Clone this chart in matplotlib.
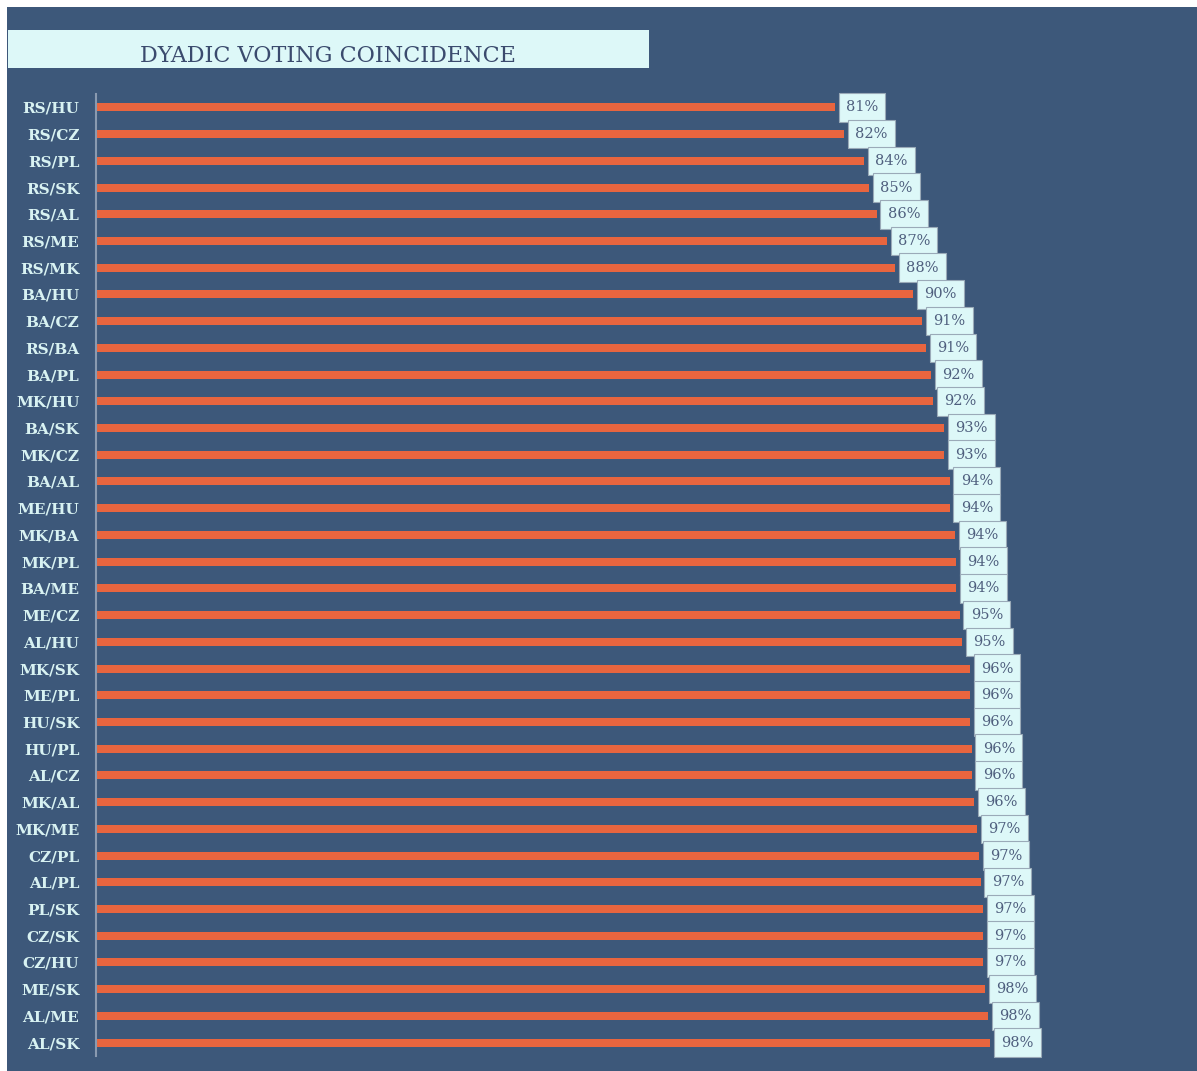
import matplotlib.pyplot as plt
from matplotlib.patches import Rectangle

pairs = ["RS/HU", "RS/CZ", "RS/PL", "RS/SK", "RS/AL", "RS/ME", "RS/MK", "BA/HU",
         "BA/CZ", "RS/BA", "BA/PL", "MK/HU", "BA/SK", "MK/CZ", "BA/AL", "ME/HU",
         "MK/BA", "MK/PL", "BA/ME", "ME/CZ", "AL/HU", "MK/SK", "ME/PL", "HU/SK",
         "HU/PL", "AL/CZ", "MK/AL", "MK/ME", "CZ/PL", "AL/PL", "PL/SK", "CZ/SK",
         "CZ/HU", "ME/SK", "AL/ME", "AL/SK"]
coincidence = [81.0, 82.0, 84.2, 84.8, 85.6, 86.7, 87.6, 89.6,
               90.6, 91.0, 91.6, 91.8, 93.0, 93.0, 93.6, 93.6,
               94.2, 94.3, 94.3, 94.7, 95.0, 95.8, 95.8, 95.8,
               96.0, 96.0, 96.3, 96.6, 96.8, 97.0, 97.3, 97.3,
               97.3, 97.5, 97.8, 98.0]

bg = "#3d587a"
bar_color = "#e8653f"
light = "#ddf8f8"

W, H = 1197, 1071
fig = plt.figure(figsize=(W / 100, H / 100), dpi=100, facecolor="white")

# dark panel behind everything
fig.patches.append(Rectangle((7 / W, -0.01), 1.02, 1 - 7 / H + 0.01, transform=fig.transFigure,
                             facecolor=bg, edgecolor="none", zorder=-10))

# title box
fig.patches.append(Rectangle((8 / W, 1 - 68 / H), (649 - 8) / W, 38 / H, transform=fig.transFigure,
                             facecolor=light, edgecolor="none", zorder=-5))
fig.text(328 / W, 1 - 56 / H, "DYADIC VOTING COINCIDENCE", ha="center", va="center",
         fontsize=16, family="DejaVu Serif", color="#3b4b6e")

left, right = 96 / W, 1190 / W
bottom, top = 1 - 1056 / H, 1 - 94 / H
ax = fig.add_axes([left, bottom, right - left, top - bottom])
ax.set_facecolor("none")

y = list(range(len(pairs)))
ax.barh(y, coincidence, height=0.3, color=bar_color)
ax.set_xlim(0, (1190 - 96) / 9.12)
ax.set_ylim(len(pairs) - 0.5, -0.5)

for yi, v in zip(y, coincidence):
    ax.annotate(f"{round(v)}%", xy=(v, yi), xytext=(8, 0), textcoords="offset points",
                ha="left", va="center", fontsize=10.5, family="DejaVu Serif", color="#4f5f7e",
                bbox=dict(boxstyle="square,pad=0.5", facecolor=light, edgecolor="#9aaab8", linewidth=0.8))

ax.set_yticks(y)
ax.set_yticklabels(pairs, fontsize=11, family="DejaVu Serif", fontweight="bold", color="#d8f2f2")
ax.tick_params(axis="y", length=0, pad=12)
ax.set_xticks([])
for s in ["top", "right", "bottom"]:
    ax.spines[s].set_visible(False)
ax.spines["left"].set_color("#8a9ab0")
ax.spines["left"].set_linewidth(1.5)

fig.savefig("out.png", dpi=100, facecolor="white")
